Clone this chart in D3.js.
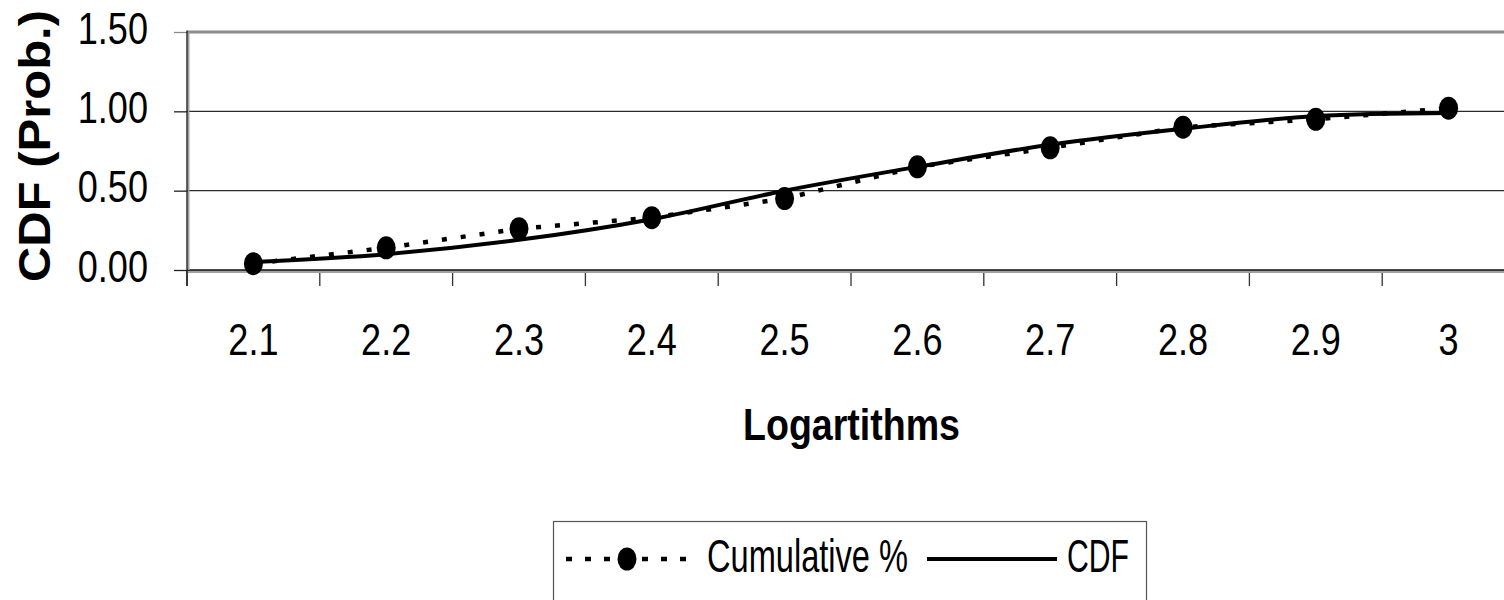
<!DOCTYPE html>
<html>
<head>
<meta charset="utf-8">
<script src="https://cdn.jsdelivr.net/npm/d3@7"></script>
<style>
  html, body { margin: 0; padding: 0; background: #fff; }
  svg { display: block; }
</style>
</head>
<body>
<svg id="chart" width="1504" height="600"></svg>
<script>
// Categories on the x axis (log values)
const categories = ["2.1", "2.2", "2.3", "2.4", "2.5", "2.6", "2.7", "2.8", "2.9", "3"];
// Observed cumulative proportion
const cumulativePct = [0.04, 0.14, 0.26, 0.33, 0.45, 0.65, 0.77, 0.90, 0.95, 1.02];
// Fitted cumulative distribution function
const cdfValues = [0.05, 0.10, 0.19, 0.32, 0.50, 0.65, 0.79, 0.89, 0.97, 0.99];
// Value-axis ticks
const yTickValues = [0, 0.5, 1.0, 1.5];
const seriesNames = ["Cumulative %", "CDF"];
const xTitle = "Logartithms";
const yTitle = "CDF (Prob.)";

const W = 1504, H = 600;
const svg = d3.select("#chart");
const plot = { left: 187, right: 1515, top: 32, bottom: 270 };

const narrow = "'Liberation Sans Narrow','Arial Narrow','Liberation Sans',Arial,sans-serif";
const boldFont = "'Liberation Sans',Arial,sans-serif";

// Condense a label horizontally, as a narrow face would
function condense(sel, factor) {
  sel.each(function () {
    const len = this.getComputedTextLength();
    d3.select(this)
      .attr("textLength", len * factor)
      .attr("lengthAdjust", "spacingAndGlyphs");
  });
}

const x = d3.scaleBand().domain(categories).range([plot.left, plot.right]);
const y = d3.scaleLinear().domain([0, 1.5]).range([plot.bottom, plot.top]);
const cx = c => x(c) + x.bandwidth() / 2;

// Horizontal gridlines
svg.append("g").selectAll("line")
  .data(yTickValues.filter(v => v > 0))
  .join("line")
  .attr("x1", plot.left).attr("x2", W)
  .attr("y1", d => y(d)).attr("y2", d => y(d))
  .attr("stroke", d => d === 1.5 ? "#8a8a8a" : "#2a2a2a")
  .attr("stroke-width", d => d === 1.5 ? 3.2 : 1.3);

// Value axis with labels
const yAxis = d3.axisLeft(y)
  .tickValues(yTickValues)
  .tickFormat(d3.format(".2f"))
  .tickSize(13)
  .tickSizeOuter(0)
  .tickPadding(26);
const gy = svg.append("g").attr("transform", `translate(${plot.left},0)`).call(yAxis);
gy.select(".domain").remove();
gy.selectAll(".tick line").attr("stroke", d => d === 1.5 ? "#8a8a8a" : "#222").attr("stroke-width", 1.3);
gy.selectAll(".tick text")
  .attr("dy", "0.25em")
  .attr("font-family", narrow)
  .attr("font-size", 44)
  .attr("fill", "#000")
  .call(condense, 0.82);

// Category axis labels
const xAxis = d3.axisBottom(x).tickSize(0).tickSizeOuter(0);
const gx = svg.append("g").attr("transform", `translate(0,${plot.bottom})`).call(xAxis);
gx.select(".domain").remove();
gx.selectAll(".tick text")
  .attr("y", 85).attr("dy", 0)
  .attr("font-family", narrow)
  .attr("font-size", 44)
  .attr("fill", "#000")
  .call(condense, 0.82);

// Tick marks on category boundaries
const boundaries = categories.map(c => x(c)).concat([x.range()[1]]);
svg.append("g").selectAll("line")
  .data(boundaries)
  .join("line")
  .attr("x1", d => d).attr("x2", d => d)
  .attr("y1", plot.bottom).attr("y2", plot.bottom + 16)
  .attr("stroke", "#333").attr("stroke-width", 1.3);

// Axis lines with a light shadow
svg.append("line")
  .attr("x1", plot.left).attr("x2", W)
  .attr("y1", plot.bottom + 1.5).attr("y2", plot.bottom + 1.5)
  .attr("stroke", "#a0a0a0").attr("stroke-width", 3);
svg.append("line")
  .attr("x1", plot.left).attr("x2", W)
  .attr("y1", plot.bottom).attr("y2", plot.bottom)
  .attr("stroke", "#111").attr("stroke-width", 1.3);
svg.append("line")
  .attr("x1", plot.left + 1.5).attr("x2", plot.left + 1.5)
  .attr("y1", plot.top).attr("y2", plot.bottom)
  .attr("stroke", "#a0a0a0").attr("stroke-width", 2);
svg.append("line")
  .attr("x1", plot.left).attr("x2", plot.left)
  .attr("y1", plot.top - 1.5).attr("y2", plot.bottom + 16)
  .attr("stroke", "#111").attr("stroke-width", 1.3);

// Series lines
const cumData = categories.map((c, i) => ({ c, v: cumulativePct[i] }));
const cdfData = categories.map((c, i) => ({ c, v: cdfValues[i] }));

const dotted = d3.line().x(d => cx(d.c)).y(d => y(d.v));
const smooth = d3.line().x(d => cx(d.c)).y(d => y(d.v)).curve(d3.curveCatmullRom.alpha(0.5));

svg.append("path")
  .datum(cumData)
  .attr("d", dotted)
  .attr("fill", "none")
  .attr("stroke", "#000")
  .attr("stroke-width", 4.5)
  .attr("stroke-dasharray", "5,14");

svg.append("g").selectAll("ellipse")
  .data(cumData)
  .join("ellipse")
  .attr("cx", d => cx(d.c))
  .attr("cy", d => y(d.v))
  .attr("rx", 9.5).attr("ry", 11.5)
  .attr("fill", "#000");

svg.append("path")
  .datum(cdfData)
  .attr("d", smooth)
  .attr("fill", "none")
  .attr("stroke", "#000")
  .attr("stroke-width", 4);

// Axis titles
svg.append("text")
  .attr("x", 851.5).attr("y", 440)
  .attr("text-anchor", "middle")
  .attr("font-family", boldFont)
  .attr("font-weight", "bold")
  .attr("font-size", 45)
  .attr("textLength", 217)
  .attr("lengthAdjust", "spacingAndGlyphs")
  .text(xTitle);

svg.append("text")
  .attr("transform", "translate(50,146) rotate(-90)")
  .attr("text-anchor", "middle")
  .attr("font-family", boldFont)
  .attr("font-weight", "bold")
  .attr("font-size", 45)
  .attr("textLength", 272)
  .attr("lengthAdjust", "spacingAndGlyphs")
  .text(yTitle);

// Legend
const lg = svg.append("g");
lg.append("rect")
  .attr("x", 553.5).attr("y", 521.5)
  .attr("width", 593).attr("height", 120)
  .attr("fill", "#fff")
  .attr("stroke", "#555").attr("stroke-width", 1.2);

lg.append("line")
  .attr("x1", 566).attr("x2", 687)
  .attr("y1", 559).attr("y2", 559)
  .attr("stroke", "#000").attr("stroke-width", 4.5)
  .attr("stroke-dasharray", "6,13");
lg.append("ellipse")
  .attr("cx", 627).attr("cy", 559)
  .attr("rx", 9.5).attr("ry", 11.5)
  .attr("fill", "#000");
lg.append("text")
  .attr("x", 707).attr("y", 572)
  .attr("font-family", narrow)
  .attr("font-size", 47)
  .attr("textLength", 201)
  .attr("lengthAdjust", "spacingAndGlyphs")
  .text(seriesNames[0]);

lg.append("line")
  .attr("x1", 927).attr("x2", 1057)
  .attr("y1", 559).attr("y2", 559)
  .attr("stroke", "#000").attr("stroke-width", 4);
lg.append("text")
  .attr("x", 1067).attr("y", 572)
  .attr("font-family", narrow)
  .attr("font-size", 47)
  .attr("textLength", 62)
  .attr("lengthAdjust", "spacingAndGlyphs")
  .text(seriesNames[1]);
</script>
</body>
</html>
